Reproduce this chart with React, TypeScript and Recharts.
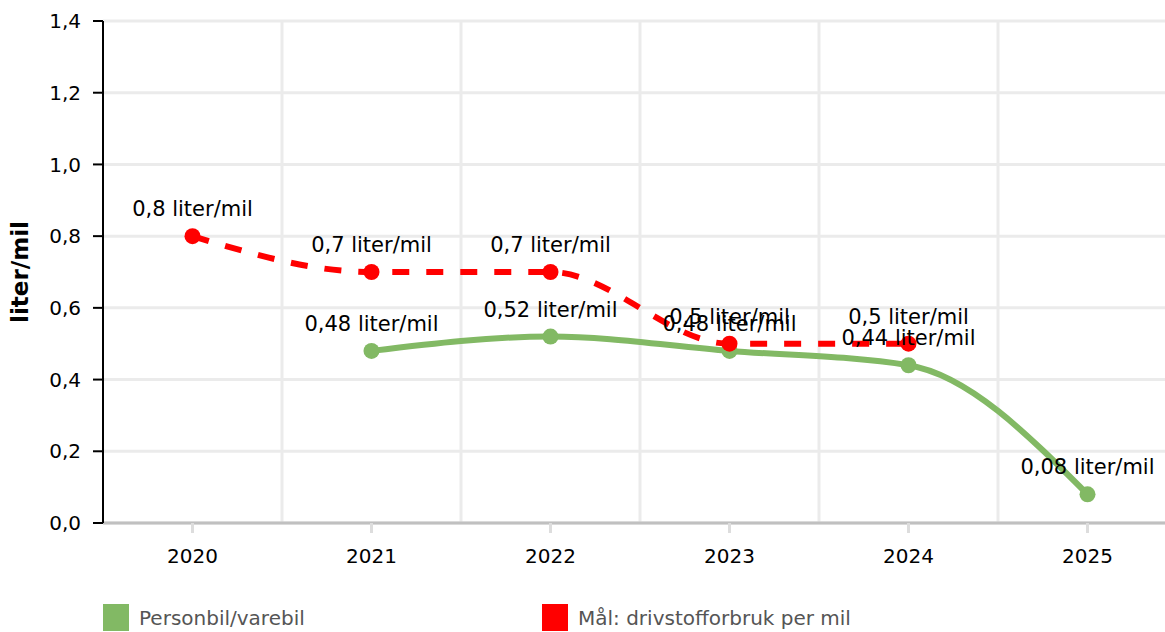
import React from "react";
import {
  LineChart,
  Line,
  XAxis,
  YAxis,
  CartesianGrid,
  LabelList,
  Legend,
} from "recharts";

const categories = ["2020", "2021", "2022", "2023", "2024", "2025"];
const personbil: (number | null)[] = [null, 0.48, 0.52, 0.48, 0.44, 0.08];
const maal: (number | null)[] = [0.8, 0.7, 0.7, 0.5, 0.5, null];
const yTicks = [0, 0.2, 0.4, 0.6, 0.8, 1.0, 1.2, 1.4];
const seriesNames = ["Personbil/varebil", "Mål: drivstofforbruk per mil"];
const seriesColors = ["#82b964", "#ff0000"];

const data = categories.map((c, i) => ({
  year: c,
  personbil: personbil[i],
  maal: maal[i],
}));

const FONT = "'DejaVu Sans', Verdana, sans-serif";

const fmtTick = (v: number) => v.toFixed(1).replace(".", ",");
const fmtLabel = (v: any) =>
  v == null ? "" : String(v).replace(".", ",") + " liter/mil";

const gridGen = (props: any) => {
  const off = props.offset;
  const band = off.width / categories.length;
  return categories.slice(1).map((_, i) => off.left + (i + 1) * band);
};

const renderLegend = () => (
  <div style={{ display: "flex", paddingLeft: 103, paddingTop: 12, fontFamily: FONT }}>
    {seriesNames.map((n, i) => (
      <div
        key={n}
        style={{
          display: "flex",
          alignItems: "center",
          width: 439,
        }}
      >
        <div style={{ width: 26, height: 27, background: seriesColors[i], marginRight: 10 }} />
        <span style={{ fontSize: 20, color: "#555" }}>{n}</span>
      </div>
    ))}
  </div>
);

export default function App() {
  return (
    <div
      style={{
        position: "absolute",
        left: 0,
        top: 0,
        width: 1165,
        height: 632,
        overflow: "hidden",
        background: "#fff",
      }}
    >
      <LineChart
        width={1177}
        height={632}
        data={data}
        margin={{ top: 21, right: 0, bottom: 0, left: 0 }}
      >
        <CartesianGrid
          stroke="#ebebeb"
          strokeWidth={3}
          verticalCoordinatesGenerator={gridGen}
        />
        <XAxis
          dataKey="year"
          scale="band"
          height={69}
          axisLine={{ stroke: "#c0c0c0", strokeWidth: 3 }}
          tickLine={{ stroke: "#dddddd", strokeWidth: 3 }}
          tickSize={10}
          tickMargin={16}
          tick={{ fill: "#000", fontSize: 20, fontFamily: FONT }}
        />
        <YAxis
          width={103}
          domain={[0, 1.4]}
          ticks={yTicks}
          tickFormatter={fmtTick}
          axisLine={{ stroke: "#000", strokeWidth: 2 }}
          tickLine={{ stroke: "#000", strokeWidth: 2 }}
          tickSize={10}
          tickMargin={12}
          tick={{ fill: "#000", fontSize: 20, fontFamily: FONT }}
          label={{
            value: "liter/mil",
            angle: -90,
            position: "insideLeft",
            offset: 20,
            style: { fontSize: 23, fontWeight: "bold", fill: "#000", fontFamily: FONT, textAnchor: "middle" },
          }}
        />
        <Legend verticalAlign="bottom" height={40} content={renderLegend} />
        <Line
          type="monotone"
          dataKey="personbil"
          name={seriesNames[0]}
          stroke={seriesColors[0]}
          strokeWidth={6}
          dot={{ r: 8, fill: seriesColors[0], stroke: "none" }}
          activeDot={false}
          isAnimationActive={false}
        >
          <LabelList
            dataKey="personbil"
            position="top"
            offset={20}
            formatter={fmtLabel}
            style={{ fontSize: 21, fill: "#000", fontFamily: FONT }}
          />
        </Line>
        <Line
          type="monotone"
          dataKey="maal"
          name={seriesNames[1]}
          stroke={seriesColors[1]}
          strokeWidth={6}
          strokeDasharray="17 17"
          dot={{ r: 8, fill: seriesColors[1], stroke: "none" }}
          activeDot={false}
          isAnimationActive={false}
        >
          <LabelList
            dataKey="maal"
            position="top"
            offset={20}
            formatter={fmtLabel}
            style={{ fontSize: 21, fill: "#000", fontFamily: FONT }}
          />
        </Line>
      </LineChart>
    </div>
  );
}
